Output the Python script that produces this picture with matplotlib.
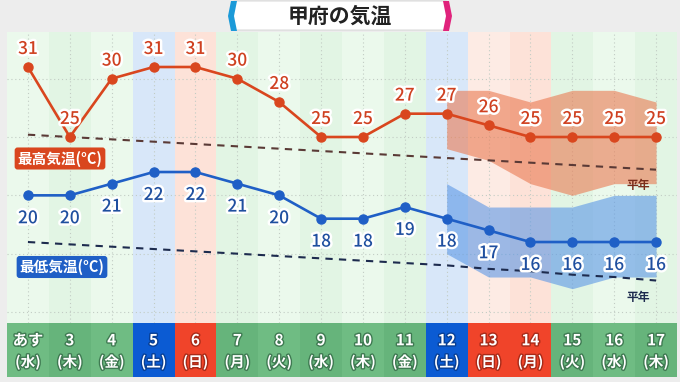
import matplotlib
matplotlib.use("Agg")
import matplotlib.pyplot as plt
import matplotlib.patheffects as pe
from matplotlib.patches import Polygon, FancyBboxPatch

plt.rcParams['font.family'] = ['Noto Sans CJK JP', 'DejaVu Sans']

# --- data ---
DAYS = ["あす", "3", "4", "5", "6", "7", "8", "9", "10", "11", "12", "13", "14", "15", "16", "17"]
WEEKDAYS = ["水", "木", "金", "土", "日", "月", "火", "水", "木", "金", "土", "日", "月", "火", "水", "木"]
DAY_KIND = ["wd", "wd", "wd", "sat", "sun", "wd", "wd", "wd", "wd", "wd", "sat", "sun", "sun", "wd", "wd", "wd"]

HIGHS = [31, 25, 30, 31, 31, 30, 28, 25, 25, 27, 27, 26, 25, 25, 25, 25]
LOWS = [20, 20, 21, 22, 22, 21, 20, 18, 18, 19, 18, 17, 16, 16, 16, 16]

HIGH_NORMAL = [25.2, 25.0, 24.8, 24.6, 24.4, 24.2, 24.0, 23.8, 23.6, 23.4, 23.2, 23.0, 22.8, 22.6, 22.4, 22.2]
LOW_NORMAL = [16.0, 15.8, 15.6, 15.4, 15.2, 15.0, 14.8, 14.6, 14.4, 14.2, 14.0, 13.7, 13.5, 13.2, 13.0, 12.7]

BAND_DAYS = [10, 11, 12, 13, 14, 15]
HIGH_BAND_TOP = [29, 29, 28, 29, 29, 28]
HIGH_BAND_BOTTOM = [24, 23, 21, 20, 21, 21]
LOW_BAND_TOP = [21, 19, 19, 19, 20, 20]
LOW_BAND_BOTTOM = [15, 13, 13, 12, 13, 13]

GRID_TEMPS = [10, 15, 20, 25, 30]

RED = "#d9461e"
BLUE = "#1f5fc6"

BG_COLORS = {"wd": ("#ebf9ec", "#e2f5e4"), "sat": ("#d8e7f9", "#d8e7f9"), "sun": ("#fde2d8", "#fdebe4")}
ROW_COLORS = {"wd": ("#6fbc83", "#66b47b"), "sat": ("#0b5bd3", "#0b5bd3"), "sun": ("#f0442a", "#f0442a")}
ROW_STROKE = {"wd": "#3f7a52", "sat": "#083f95", "sun": "#a82a18"}

W, H = 680, 382
fig = plt.figure(figsize=(W / 100, H / 100), dpi=100)
fig.patch.set_facecolor("#ededed")

# main chart
ax = fig.add_axes([7 / W, 59 / H, 670 / W, 291 / H])
ax.set_xlim(-0.5, 15.5)
ax.set_ylim(9.06, 34.0)
for s in ax.spines.values():
    s.set_visible(False)
ax.set_xticks([])
ax.set_yticks([])

for i, kind in enumerate(DAY_KIND):
    ax.axvspan(i - 0.5, i + 0.5, color=BG_COLORS[kind][i % 2], lw=0, zorder=0)
    ax.axvline(i, color="#c2ccc4", lw=0.8, ls=(0, (1, 2.5)), zorder=1)
for t in GRID_TEMPS:
    ax.axhline(t, color="#c2ccc4", lw=0.8, ls=(0, (1, 2.5)), zorder=1)

ax.fill_between(BAND_DAYS, HIGH_BAND_BOTTOM, HIGH_BAND_TOP, color="#ea7a52", alpha=0.6, lw=0, zorder=2)
ax.fill_between(BAND_DAYS, LOW_BAND_BOTTOM, LOW_BAND_TOP, color="#5b97e6", alpha=0.6, lw=0, zorder=2)

x = list(range(len(DAYS)))
ax.plot(x, HIGH_NORMAL, color="#5a3a36", lw=1.5, ls=(0, (3.5, 3)), zorder=3)
ax.plot(x, LOW_NORMAL, color="#1d2b4e", lw=1.5, ls=(0, (3.5, 3)), zorder=3)

ax.plot(x, HIGHS, color=RED, lw=1.9, marker="o", ms=6.5, zorder=4)
ax.plot(x, LOWS, color=BLUE, lw=1.9, marker="o", ms=6.5, zorder=4)

halo = [pe.withStroke(linewidth=3.5, foreground="white")]
for i, v in enumerate(HIGHS):
    ax.annotate(str(v), (i, v), xytext=(0, 13), textcoords="offset points",
                ha="center", va="center", fontsize=12.5, fontweight="medium",
                color="#cf4020", path_effects=halo, zorder=5)
for i, v in enumerate(LOWS):
    ax.annotate(str(v), (i, v), xytext=(0, -16.5), textcoords="offset points",
                ha="center", va="center", fontsize=12.5, fontweight="medium",
                color="#1f4f9f", path_effects=halo, zorder=5)

# day row
ax2 = fig.add_axes([7 / W, 5 / H, 670 / W, 54 / H])
ax2.set_xlim(-0.5, 15.5)
ax2.set_ylim(0, 1)
ax2.axis("off")
for i, kind in enumerate(DAY_KIND):
    ax2.bar(i, 1, width=1, bottom=0, color=ROW_COLORS[kind][i % 2], lw=0)
    st = [pe.withStroke(linewidth=2, foreground=ROW_STROKE[kind])]
    ax2.text(i, 0.68, DAYS[i], ha="center", va="center", fontsize=11,
             fontweight="bold", color="white", path_effects=st)
    ax2.text(i, 0.28, f"({WEEKDAYS[i]})", ha="center", va="center", fontsize=10.5,
             fontweight="bold", color="white", path_effects=st)

# overlay in pixel units for title and labels
ov = fig.add_axes([0, 0, 1, 1])
ov.set_xlim(0, W)
ov.set_ylim(H, 0)
ov.axis("off")
ov.patch.set_alpha(0)

ov.add_patch(FancyBboxPatch((232, 1), 216, 29, boxstyle="round,pad=0,rounding_size=3",
                            fc="white", ec="#d0d0d0", lw=0.6))
ov.add_patch(Polygon([(231, 1), (237, 1), (234, 16), (237, 31), (231, 31), (228, 16)],
                     closed=True, fc="#1c9ad8", ec="none"))
ov.add_patch(Polygon([(449, 1), (443, 1), (446, 16), (443, 31), (449, 31), (452, 16)],
                     closed=True, fc="#e0237c", ec="none"))
ov.text(340, 16, "甲府の気温", ha="center", va="center", fontsize=15,
        fontweight="bold", color="#222222")

ov.text(60, 158.5, "最高気温(°C)", ha="center", va="center", fontsize=10.5,
        fontweight="bold", color="white",
        bbox=dict(boxstyle="round,pad=0.2,rounding_size=0.2", fc="#d9461e", ec="none"))
ov.text(62, 267, "最低気温(°C)", ha="center", va="center", fontsize=10.5,
        fontweight="bold", color="white",
        bbox=dict(boxstyle="round,pad=0.2,rounding_size=0.2", fc="#1f5fc6", ec="none"))

ov.text(638, 185, "平年", ha="center", va="center", fontsize=8.5,
        fontweight="bold", color="#7a2e1c")
ov.text(638, 297, "平年", ha="center", va="center", fontsize=8.5,
        fontweight="bold", color="#1d2b4e")

fig.savefig("out.png", dpi=100, facecolor=fig.get_facecolor())
